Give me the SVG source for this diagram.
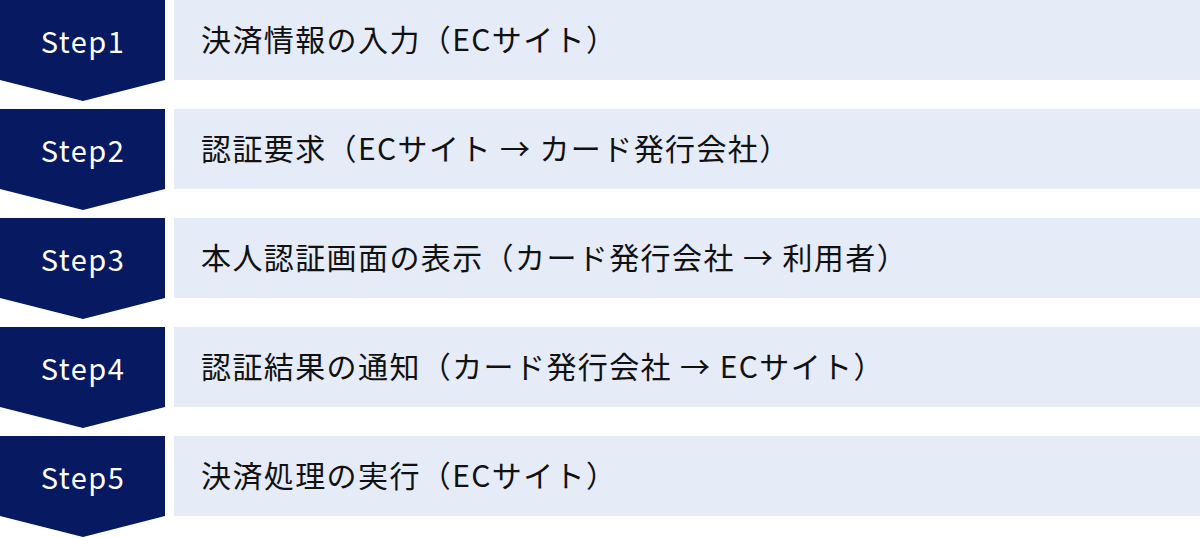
<svg xmlns="http://www.w3.org/2000/svg" width="1200" height="538" viewBox="0 0 1200 538">
<style>
.chev{fill:#061961}
.box{fill:#e6ebf8}
.step{font-family:"Noto Sans CJK JP","Noto Sans",sans-serif;font-size:29px;fill:#ffffff;text-anchor:middle;letter-spacing:1.5px}
.lbl{font-family:"Noto Sans CJK JP",sans-serif;font-size:30px;fill:#111111;letter-spacing:1.4px}
</style>
<rect width="1200" height="538" fill="#ffffff"/>
<g id="step1">
<polygon class="chev" points="0,0 165,0 165,80 83,101 0,80"/>
<rect class="box" x="174" y="0" width="1026" height="80"/>
<text class="step" x="83" y="53">Step1</text>
<text class="lbl" x="201" y="51">決済情報の入力（ECサイト）</text>
</g>
<g id="step2">
<polygon class="chev" points="0,109 165,109 165,189 83,210 0,189"/>
<rect class="box" x="174" y="109" width="1026" height="80"/>
<text class="step" x="83" y="162">Step2</text>
<text class="lbl" x="201" y="160">認証要求（ECサイト → カード発行会社）</text>
</g>
<g id="step3">
<polygon class="chev" points="0,218 165,218 165,298 83,319 0,298"/>
<rect class="box" x="174" y="218" width="1026" height="80"/>
<text class="step" x="83" y="271">Step3</text>
<text class="lbl" x="201" y="269">本人認証画面の表示（カード発行会社 → 利用者）</text>
</g>
<g id="step4">
<polygon class="chev" points="0,327 165,327 165,407 83,428 0,407"/>
<rect class="box" x="174" y="327" width="1026" height="80"/>
<text class="step" x="83" y="380">Step4</text>
<text class="lbl" x="201" y="378">認証結果の通知（カード発行会社 → ECサイト）</text>
</g>
<g id="step5">
<polygon class="chev" points="0,436 165,436 165,516 83,537 0,516"/>
<rect class="box" x="174" y="436" width="1026" height="80"/>
<text class="step" x="83" y="489">Step5</text>
<text class="lbl" x="201" y="487">決済処理の実行（ECサイト）</text>
</g>
<g id="connectors"></g>
</svg>
